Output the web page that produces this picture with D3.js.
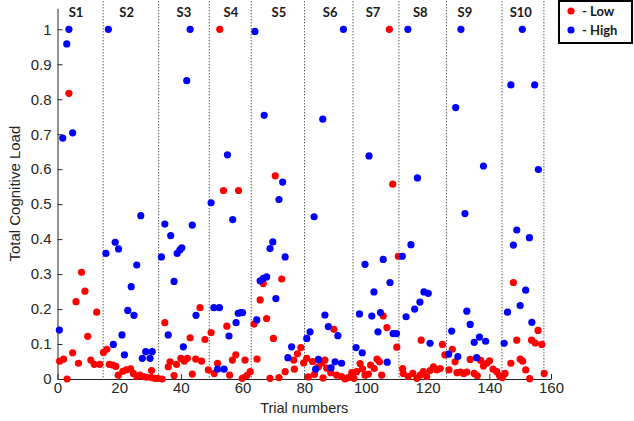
<!DOCTYPE html>
<html>
<head>
<meta charset="utf-8">
<script src="https://cdn.jsdelivr.net/npm/d3@7"></script>
<style>
  body { margin: 0; background: #fff; }
  svg { display: block; }
  .tick text { font-family: "Liberation Sans", Arial, sans-serif; font-size: 15px; fill: #262626; }
</style>
</head>
<body>
<div class="container"></div>
<script>
// data: [trial number, total cognitive load]
const lowPoints = [
  [0.7, 0.051], [2.0, 0.057], [3.1, 0.0], [3.7, 0.817], [4.9, 0.075], [6.0, 0.221], [6.8, 0.045], [7.8, 0.305],
  [8.9, 0.251], [9.8, 0.122], [10.8, 0.054], [11.9, 0.042], [12.7, 0.191], [13.7, 0.042], [14.9, 0.076],
  [16.0, 0.085], [16.8, 0.042], [17.9, 0.04], [18.9, 0.036], [19.7, 0.011], [21.2, 0.022], [22.3, 0.026],
  [23.7, 0.029], [24.6, 0.016], [25.7, 0.007], [26.7, 0.011], [27.8, 0.007], [28.9, 0.005], [30.5, 0.024],
  [30.5, 0.004], [31.6, 0.002], [32.5, 0.002],
  [33.9, 0.0], [34.8, 0.161], [35.9, 0.035], [36.5, 0.049], [37.8, 0.01], [38.6, 0.042], [40.0, 0.059],
  [41.1, 0.051], [42.1, 0.059], [43.0, 0.118], [43.7, 0.014], [44.8, 0.057], [46.2, 0.204], [46.7, 0.051],
  [47.8, 0.113],
  [48.9, 0.026], [49.8, 0.133], [50.8, 0.016], [51.9, 0.045], [52.6, 1.0], [53.8, 0.539], [54.9, 0.151],
  [55.8, 0.011], [56.7, 0.054], [57.8, 0.069], [58.7, 0.539], [59.9, 0.002], [60.8, 0.054], [61.4, 0.01],
  [62.5, 0.021],
  [63.7, 0.157], [64.7, 0.057], [65.7, 0.226], [66.7, 0.273], [67.8, 0.173], [68.9, 0.002], [70.0, 0.116],
  [70.6, 0.581], [71.8, 0.004], [72.7, 0.286], [73.8, 0.021], [76.6, 0.054], [76.8, 0.028], [77.8, 0.072],
  [78.9, 0.09], [79.8, 0.046],
  [80.8, 0.059], [81.3, 0.006], [82.7, 0.05], [83.3, 0.013], [84.6, 0.035], [85.7, 0.045], [86.1, 0.003],
  [86.7, 0.054], [87.3, 0.031], [88.6, 0.018], [89.6, 0.142], [90.5, 0.011], [92.1, 0.007], [93.2, 0.0],
  [94.3, 0.004], [95.4, 0.018],
  [96.1, 0.002], [97.0, 0.021], [98.1, 0.044], [98.9, 0.029], [99.7, 0.011], [100.8, 0.014], [101.5, 0.04],
  [102.7, 0.03], [103.6, 0.057], [104.4, 0.049], [105.1, 0.011], [105.6, 0.18], [106.8, 0.147], [107.6, 1.0],
  [108.7, 0.557], [110.0, 0.091], [110.5, 0.351],
  [111.9, 0.03], [112.1, 0.016], [113.7, 0.007], [115.2, 0.016], [116.5, 0.002], [117.6, 0.011], [117.9, 0.111],
  [118.6, 0.021], [119.7, 0.007], [120.8, 0.024], [121.9, 0.035], [123.0, 0.026], [124.1, 0.03], [124.8, 0.099],
  [125.6, 0.069],
  [126.9, 0.026], [128.0, 0.085], [128.9, 0.049], [129.5, 0.018], [130.7, 0.02], [131.7, 0.016], [132.7, 0.02],
  [133.8, 0.056], [135.1, 0.016], [136.1, 0.009], [137.2, 0.053], [138.1, 0.037], [139.2, 0.045], [140.1, 0.052],
  [141.2, 0.028], [142.4, 0.021], [143.3, 0.01],
  [144.2, 0.004], [145.1, 0.016], [147.0, 0.045], [147.8, 0.276], [148.9, 0.111], [150.0, 0.057], [150.8, 0.051],
  [151.8, 0.026], [153.1, 0.001], [153.7, 0.111], [154.9, 0.103], [155.8, 0.139], [157.0, 0.099], [157.8, 0.016]
];

const highPoints = [
  [0.6, 0.14], [1.7, 0.689], [3.0, 0.958], [3.7, 1.0], [4.9, 0.704],
  [15.7, 0.359], [16.5, 1.0], [18.1, 0.099], [18.7, 0.391], [19.8, 0.372], [20.9, 0.126], [21.7, 0.069],
  [22.8, 0.196], [23.9, 0.264], [24.8, 0.182], [25.7, 0.326], [27.0, 0.467], [27.5, 0.059], [28.6, 0.078],
  [30.0, 0.059], [30.7, 0.078],
  [33.7, 0.349], [34.8, 0.443], [35.9, 0.126], [36.7, 0.41], [37.8, 0.279], [38.8, 0.359], [39.7, 0.369],
  [40.3, 0.375], [40.8, 0.092], [41.9, 0.853], [43.0, 1.0], [43.7, 0.44], [44.9, 0.182],
  [49.8, 0.504], [50.7, 0.204], [51.9, 0.028], [52.5, 0.204], [54.0, 0.028], [55.1, 0.641], [55.6, 0.123],
  [56.8, 0.456], [57.9, 0.161], [58.6, 0.188], [59.4, 0.19], [60.0, 0.19],
  [64.0, 0.994], [64.6, 0.169], [65.7, 0.281], [66.7, 0.288], [67.0, 0.754], [67.8, 0.292], [68.9, 0.373],
  [69.8, 0.392], [70.8, 0.23], [71.8, 0.513], [73.0, 0.563], [73.8, 0.349], [74.7, 0.061], [75.9, 0.092],
  [80.8, 0.116], [81.9, 0.135], [83.2, 0.464], [83.7, 0.028], [84.6, 0.056], [86.0, 0.743], [86.7, 0.183],
  [87.8, 0.15], [88.7, 0.032], [90.0, 0.049], [90.9, 0.124], [92.1, 0.045], [92.7, 1.0],
  [96.8, 0.09], [97.9, 0.186], [98.8, 0.075], [99.7, 0.328], [101.0, 0.638], [101.9, 0.18], [102.6, 0.249],
  [103.9, 0.135], [104.7, 0.19], [105.6, 0.342], [106.9, 0.048], [107.8, 0.276], [108.8, 0.13], [109.9, 0.13],
  [111.8, 0.351], [113.0, 0.178], [113.6, 1.0], [114.6, 0.384], [115.8, 0.2], [116.7, 0.575], [117.5, 0.22],
  [118.8, 0.249], [120.2, 0.245], [120.8, 0.102],
  [126.8, 0.071], [127.8, 0.137], [129.1, 0.776], [129.8, 0.064], [130.8, 1.0], [132.1, 0.473], [132.7, 0.194],
  [133.8, 0.156], [135.1, 0.105], [135.9, 0.061], [136.8, 0.12], [138.1, 0.609], [138.8, 0.108],
  [144.8, 0.102], [145.9, 0.191], [147.0, 0.841], [147.8, 0.383], [148.9, 0.426], [150.0, 0.21], [150.7, 1.0],
  [151.8, 0.254], [153.0, 0.404], [153.8, 0.162], [154.7, 0.841], [155.9, 0.599]
];

// session boundaries (trial numbers) and session labels
const sessionBounds = [14.8, 32.8, 49.2, 62.8, 80.1, 95.8, 110.7, 126.1, 144.1, 157.7];
const sessionNames = ['S1', 'S2', 'S3', 'S4', 'S5', 'S6', 'S7', 'S8', 'S9', 'S10'];
const sessionLabelAt = [6.0, 22.4, 41.0, 56.2, 71.8, 88.4, 102.3, 117.6, 132.1, 150.2];

const xTicks = [0, 20, 40, 60, 80, 100, 120, 140, 160];
const yTicks = [0, 0.1, 0.2, 0.3, 0.4, 0.5, 0.6, 0.7, 0.8, 0.9, 1];
const legendItems = [{ label: '- Low', color: '#ff0000' }, { label: '- High', color: '#0000ff' }];

// config
const config = {
  width: 634,
  height: 421,
  plot: { left: 57.5, right: 551, top: 8.3, bottom: 379 },
  xDomain: [0, 160],
  yDomain: [0, 1.06],
  dotRadius: 3.6,
  color: { low: '#ff0000', high: '#0000ff', axis: '#262626' },
};

const x = d3.scaleLinear().domain(config.xDomain).range([config.plot.left, config.plot.right]);
const y = d3.scaleLinear().domain(config.yDomain).range([config.plot.bottom, config.plot.top]);

const svg = d3.select('.container')
  .append('svg')
  .attr('width', config.width)
  .attr('height', config.height);

// dotted session separators
svg.append('g').selectAll('line')
  .data(sessionBounds)
  .enter().append('line')
  .attr('x1', d => x(d)).attr('x2', d => x(d))
  .attr('y1', y(1.08)).attr('y2', y(0))
  .attr('stroke', '#111')
  .attr('stroke-width', 1)
  .attr('stroke-dasharray', '1,2');

// session labels
svg.append('g').selectAll('text')
  .data(sessionNames)
  .enter().append('text')
  .attr('x', (d, i) => x(sessionLabelAt[i]))
  .attr('y', 17)
  .attr('text-anchor', 'middle')
  .style('font-family', 'Lato, sans-serif')
  .style('font-weight', 'bold')
  .style('font-size', '13px')
  .style('fill', '#1a1a1a')
  .text(d => d);

// axes
const xAxis = svg.append('g')
  .attr('transform', `translate(0,${config.plot.bottom})`)
  .call(d3.axisBottom(x).tickValues(xTicks).tickSize(-5).tickSizeOuter(0).tickPadding(3));

const yAxis = svg.append('g')
  .attr('transform', `translate(${config.plot.left},0)`)
  .call(d3.axisLeft(y).tickValues(yTicks).tickFormat(d3.format('~g')).tickSize(-5).tickSizeOuter(0).tickPadding(6));

[xAxis, yAxis].forEach(a => {
  a.select('.domain').attr('stroke', config.color.axis);
  a.selectAll('.tick line').attr('stroke', config.color.axis);
});

// axis titles
svg.append('text')
  .attr('x', (config.plot.left + config.plot.right) / 2)
  .attr('y', 413)
  .attr('text-anchor', 'middle')
  .style('font-family', '"Liberation Sans", Arial, sans-serif')
  .style('font-size', '14.5px')
  .style('fill', '#262626')
  .text('Trial numbers');

svg.append('text')
  .attr('transform', `translate(19.5,${(config.plot.top + config.plot.bottom) / 2}) rotate(-90)`)
  .attr('text-anchor', 'middle')
  .style('font-family', '"Liberation Sans", Arial, sans-serif')
  .style('font-size', '15px')
  .style('fill', '#262626')
  .text('Total Cognitive Load');

// points
svg.append('g').selectAll('circle')
  .data(lowPoints)
  .enter().append('circle')
  .attr('cx', d => x(d[0]))
  .attr('cy', d => y(d[1]))
  .attr('r', config.dotRadius)
  .attr('fill', config.color.low);

svg.append('g').selectAll('circle')
  .data(highPoints)
  .enter().append('circle')
  .attr('cx', d => x(d[0]))
  .attr('cy', d => y(d[1]))
  .attr('r', config.dotRadius)
  .attr('fill', config.color.high);

// legend
const legend = svg.append('g').attr('transform', 'translate(559,1)');

legend.append('rect')
  .attr('width', 73)
  .attr('height', 42)
  .attr('fill', '#fff')
  .attr('stroke', '#000')
  .attr('stroke-width', 2);

const items = legend.selectAll('g')
  .data(legendItems)
  .enter().append('g')
  .attr('transform', (d, i) => `translate(0,${10 + i * 19})`);

items.append('circle')
  .attr('cx', 12)
  .attr('r', config.dotRadius)
  .attr('fill', d => d.color);

items.append('text')
  .attr('x', 23)
  .attr('dy', '0.35em')
  .style('font-family', 'Lato, sans-serif')
  .style('font-weight', 'bold')
  .style('font-size', '13px')
  .style('fill', '#1a1a1a')
  .text(d => d.label);
</script>
</body>
</html>
